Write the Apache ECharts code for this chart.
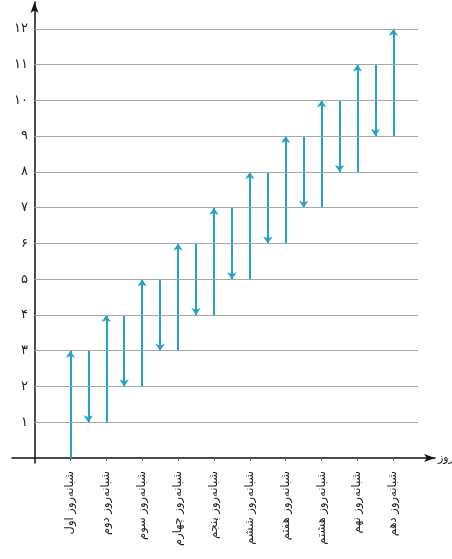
<!DOCTYPE html>
<html><head><meta charset="utf-8">
<script src="https://cdn.jsdelivr.net/npm/echarts@6/dist/echarts.min.js"></script>
<style>html,body{margin:0;padding:0;background:#fff}#c{width:452px;height:559px}</style>
</head><body><div id="c"></div>
<script>
var dayLabels = ['شبانه‌روز اول','شبانه‌روز دوم','شبانه‌روز سوم','شبانه‌روز چهارم','شبانه‌روز پنجم','شبانه‌روز ششم','شبانه‌روز هفتم','شبانه‌روز هشتم','شبانه‌روز نهم','شبانه‌روز دهم'];
var dayPos = [1,2,3,4,5,6,7,8,9,10];
var climbFrom = [0,1,2,3,4,5,6,7,8,9];
var climbTo = [3,4,5,6,7,8,9,10,11,12];
var slideTo = [1,2,3,4,5,6,7,8,9];
var yTicks = [1,2,3,4,5,6,7,8,9,10,11,12];
var persianDigits = ['۰','۱','۲','۳','۴','۵','۶','۷','۸','۹'];
function fa(n){return String(n).split('').map(function(d){return persianDigits[+d]||d;}).join('');}

var upLines = dayPos.map(function(d,i){return {coords:[[d,climbFrom[i]],[d,climbTo[i]]]};});
var downLines = slideTo.map(function(v,i){return {coords:[[dayPos[i]+0.5,climbTo[i]],[dayPos[i]+0.5,v]]};});
var gridMarks = yTicks.map(function(v){return [{coord:[0,v]},{coord:[10.69,v]}];});

var chart = echarts.init(document.getElementById('c'));
chart.setOption({
  animation:false,
  textStyle:{fontFamily:'DejaVu Sans'},
  grid:{left:12,right:17,top:2,bottom:96,containLabel:false,outerBoundsMode:'none'},
  xAxis:{type:'value',min:-0.627,max:11.16,
    name:'روز',nameLocation:'end',nameGap:3,nameTextStyle:{fontSize:11,color:'#222',fontFamily:'DejaVu Sans'},
    axisLine:{onZero:true,lineStyle:{color:'#111',width:1.5},symbol:['none','arrow'],symbolSize:[6,11]},
    axisTick:{show:true,customValues:dayPos,length:3,lineStyle:{color:'#666'}},
    axisLabel:{customValues:dayPos,rotate:90,fontSize:11.5,color:'#222',margin:8,
      formatter:function(v){return dayLabels[Math.round(v)-1]||'';}},
    splitLine:{show:false}},
  yAxis:{type:'value',min:-0.14,max:12.75,
    axisLine:{onZero:true,lineStyle:{color:'#111',width:1.5},symbol:['none','arrow'],symbolSize:[6,11]},
    axisTick:{show:false},
    axisLabel:{customValues:yTicks,fontSize:13,color:'#222',margin:-16,formatter:function(v){return fa(v);}},
    splitLine:{show:false}},
  series:[
    {type:'line',data:[],markLine:{silent:true,symbol:'none',label:{show:false},lineStyle:{color:'#a6a6a6',width:1,type:'solid'},data:gridMarks}},
    {type:'lines',coordinateSystem:'cartesian2d',symbol:['none','arrow'],symbolSize:7,
      lineStyle:{color:'#27a2c6',width:2,opacity:1},data:upLines},
    {type:'lines',coordinateSystem:'cartesian2d',symbol:['none','arrow'],symbolSize:7,
      lineStyle:{color:'#27a2c6',width:2,opacity:1},data:downLines}
  ]
});
</script></body></html>
